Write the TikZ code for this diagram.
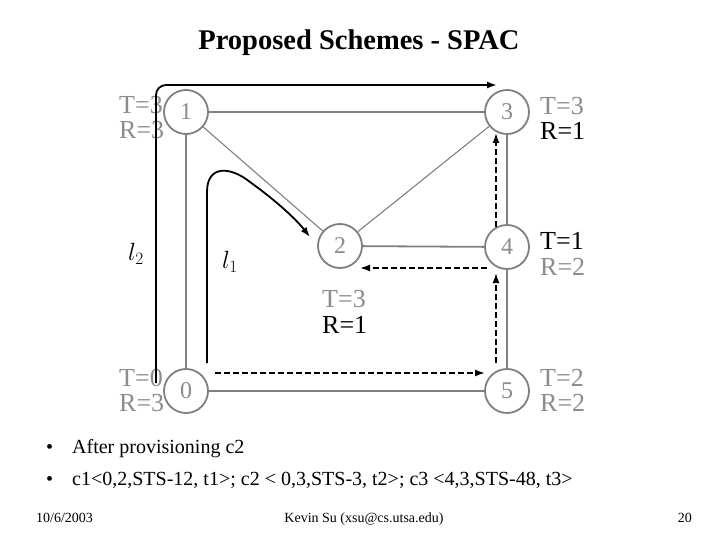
\documentclass[tikz,border=0pt]{standalone}
\usepackage{fontspec}
\setmainfont{Liberation Serif}
\usetikzlibrary{arrows.meta,calc}
\definecolor{lg}{RGB}{128,128,128}
\definecolor{tg}{RGB}{140,140,140}
\begin{document}
\begin{tikzpicture}[x=1pt,y=-1pt,
  nd/.style={circle,draw=lg,line width=1.8pt,minimum size=44pt,inner sep=0pt,text=tg,font=\fontsize{24}{24}\selectfont},
  link/.style={draw=lg,line width=1.8pt},
  diag/.style={draw=lg,line width=1.1pt},
  lbl/.style={font=\fontsize{26}{26}\selectfont,inner sep=0pt,anchor=west},
  glbl/.style={lbl,text=tg},
  blbl/.style={lbl,text=black},
  route/.style={draw=black,line width=1.8pt,-{Latex[length=10pt,width=7pt]}},
  droute/.style={draw=black,line width=1.5pt,dash pattern=on 6pt off 3pt,-{Latex[length=10pt,width=7pt]}},
  txt/.style={font=\fontsize{20}{20}\selectfont,inner sep=0pt,anchor=base west},
  foot/.style={font=\fontsize{14}{14}\selectfont,inner sep=0pt}]
\useasboundingbox[fill=white] (0,0) rectangle (720,540);
% title
\node[font=\bfseries\fontsize{28.5}{28.5}\selectfont,inner sep=0pt] (title) at (359,43) {Proposed Schemes - SPAC};
% nodes
\node[nd] (n1) at (186,112) {1};
\node[nd] (n3) at (507,112) {3};
\node[nd] (n2) at (340,246) {2};
\node[nd] (n4) at (507,247) {4};
\node[nd] (n0) at (186,391) {0};
\node[nd] (n5) at (507,391) {5};
% links
\draw[link] (n1) -- (n3);
\draw[link] (n1) -- (n0);
\draw[link] (n0) -- (n5);
\draw[link] (n3) -- (n4);
\draw[link] (n4) -- (n5);
\draw[link] (n2) -- (n4);
\draw[diag] (n1) -- (n2);
\draw[diag] (n3) -- (n2);
% labels
\node[glbl] (t1) at (119,105) {T=3};
\node[glbl] (r1) at (119,130) {R=3};
\node[glbl] (t3) at (540,106) {T=3};
\node[blbl] (r3) at (540,131) {R=1};
\node[blbl] (t4) at (540,241) {T=1};
\node[glbl] (r4) at (540,267) {R=2};
\node[glbl] (t2) at (322,299) {T=3};
\node[blbl] (r2) at (322,325) {R=1};
\node[glbl] (t0) at (119,378) {T=0};
\node[glbl] (r0) at (119,403) {R=3};
\node[glbl] (t5) at (540,378) {T=2};
\node[glbl] (r5) at (540,403) {R=2};
\node[font=\fontsize{26}{26}\selectfont,inner sep=0pt] (l2) at (136,254) {$l_2$};
\node[font=\fontsize{26}{26}\selectfont,inner sep=0pt] (l1) at (230,262) {$l_1$};
% route endpoints
\coordinate (a0) at (156,383);
\coordinate (a1) at (497,85);
\coordinate (b0) at (207,363);
\coordinate (b1) at (310,237);
\coordinate (c0) at (215,373);
\coordinate (c1) at (485,373);
\coordinate (d0) at (496,363);
\coordinate (d1) at (496,273);
\coordinate (e0) at (487,268);
\coordinate (e1) at (360,268);
\coordinate (f0) at (496,227);
\coordinate (f1) at (496,133);
% solid routes
\draw[route,rounded corners=10pt] (a0) -- (156,85) -- (a1);
\draw[route] (b0) -- (207,192) .. controls (207,165) and (230,166) .. (250,182) .. controls (275,200) and (295,218) .. (b1);
% dashed routes
\draw[droute] (c0) -- (c1);
\draw[droute] (d0) -- (d1);
\draw[droute] (e0) -- (e1);
\draw[droute] (f0) -- (f1);
% bullets
\node[txt] (bu1) at (46,453) {•};
\node[txt] (tx1) at (72,453) {After provisioning c2};
\node[txt] (bu2) at (46,485) {•};
\node[txt] (tx2) at (72,485) {c1<0,2,STS-12, t1>; c2 < 0,3,STS-3, t2>; c3 <4,3,STS-48, t3>};
% footer
\node[foot,anchor=base west] (date) at (36,522) {10/6/2003};
\node[foot,anchor=base] (author) at (364,522) {Kevin Su (xsu@cs.utsa.edu)};
\node[foot,anchor=base east] (page) at (692,522) {20};
\end{tikzpicture}
\end{document}
